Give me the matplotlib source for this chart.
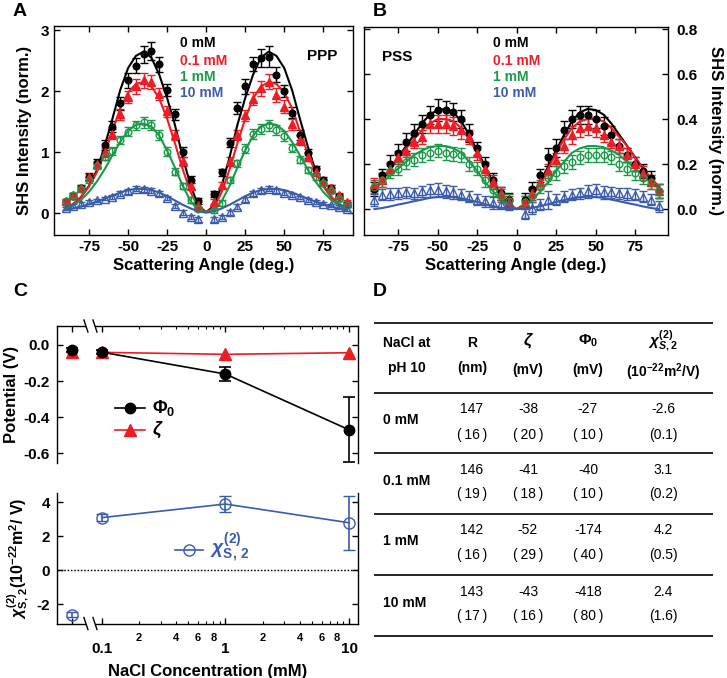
import matplotlib
matplotlib.use('Agg')
import matplotlib.pyplot as plt
from matplotlib.ticker import FixedLocator, FixedFormatter

plt.rcParams['font.family'] = ['Liberation Sans', 'DejaVu Sans']
plt.rcParams['font.weight'] = 'bold'
plt.rcParams['axes.labelweight'] = 'bold'
plt.rcParams['axes.unicode_minus'] = False
plt.rcParams['mathtext.fontset'] = 'custom'
plt.rcParams['mathtext.rm'] = 'Liberation Sans'
plt.rcParams['mathtext.it'] = 'Liberation Sans:italic'
plt.rcParams['mathtext.bf'] = 'Liberation Sans:bold'

# ---------------- data ----------------
angles = [-90, -85, -80, -75, -70, -65, -60, -55, -50, -45, -40, -35, -30, -25, -20, -15, -10, -5,
          5, 10, 15, 20, 25, 30, 35, 40, 45, 50, 55, 60, 65, 70, 75, 80, 85, 90]
fit_angles = [-90, -85, -80, -75, -70, -65, -60, -55, -50, -45, -40, -35, -30, -25, -20, -15, -10, -5, 0,
              5, 10, 15, 20, 25, 30, 35, 40, 45, 50, 55, 60, 65, 70, 75, 80, 85, 90]
conc_names = ['0 mM', '0.1 mM', '1 mM', '10 mM']

# Panel A (PPP)
a_black = [0.18, 0.28, 0.42, 0.60, 0.82, 1.12, 1.42, 1.80, 2.18, 2.42, 2.61, 2.66, 2.44, 2.02, 1.62, 1.00, 0.55, 0.20,
           0.32, 0.67, 1.16, 1.72, 2.08, 2.45, 2.54, 2.57, 2.27, 2.00, 1.65, 1.28, 0.98, 0.72, 0.55, 0.42, 0.28, 0.15]
a_black_err = [0.04, 0.05, 0.05, 0.06, 0.07, 0.08, 0.09, 0.10, 0.12, 0.12, 0.14, 0.15, 0.12, 0.10, 0.09, 0.08, 0.06, 0.05,
               0.05, 0.06, 0.08, 0.10, 0.12, 0.12, 0.15, 0.18, 0.12, 0.10, 0.09, 0.08, 0.07, 0.06, 0.05, 0.05, 0.04, 0.04]
a_red = [0.20, 0.30, 0.42, 0.60, 0.80, 1.00, 1.30, 1.62, 1.90, 2.08, 2.18, 2.15, 1.95, 1.67, 1.28, 0.85, 0.45, 0.14,
         0.19, 0.46, 0.85, 1.28, 1.61, 1.88, 2.05, 2.16, 1.94, 1.75, 1.46, 1.20, 0.93, 0.68, 0.52, 0.42, 0.30, 0.18]
a_red_err = [0.04, 0.04, 0.05, 0.05, 0.06, 0.07, 0.08, 0.09, 0.10, 0.12, 0.12, 0.12, 0.10, 0.09, 0.08, 0.07, 0.05, 0.04,
             0.04, 0.05, 0.07, 0.08, 0.09, 0.10, 0.12, 0.12, 0.12, 0.10, 0.09, 0.08, 0.07, 0.06, 0.05, 0.05, 0.04, 0.04]
a_green = [0.20, 0.30, 0.40, 0.55, 0.78, 0.93, 1.02, 1.20, 1.34, 1.44, 1.49, 1.45, 1.28, 1.01, 0.68, 0.44, 0.22, 0.07,
           0.05, 0.17, 0.55, 0.82, 1.06, 1.30, 1.38, 1.44, 1.36, 1.27, 1.07, 0.88, 0.71, 0.60, 0.50, 0.37, 0.24, 0.14]
a_green_err = [0.04, 0.04, 0.04, 0.05, 0.05, 0.06, 0.06, 0.07, 0.08, 0.08, 0.09, 0.08, 0.08, 0.07, 0.06, 0.05, 0.05, 0.04,
               0.04, 0.05, 0.05, 0.06, 0.07, 0.08, 0.08, 0.09, 0.08, 0.08, 0.07, 0.06, 0.05, 0.05, 0.04, 0.04, 0.04, 0.04]
a_blue = [0.08, 0.12, 0.15, 0.18, 0.21, 0.24, 0.27, 0.32, 0.36, 0.40, 0.39, 0.37, 0.33, 0.25, 0.12, 0.01, -0.06, -0.10,
          -0.10, -0.06, 0.02, 0.11, 0.23, 0.33, 0.38, 0.40, 0.38, 0.34, 0.30, 0.26, 0.22, 0.19, 0.16, 0.13, 0.10, 0.07]
a_blue_err = [0.03, 0.03, 0.03, 0.03, 0.03, 0.03, 0.03, 0.04, 0.04, 0.04, 0.04, 0.04, 0.04, 0.04, 0.04, 0.04, 0.04, 0.04,
              0.04, 0.04, 0.04, 0.04, 0.04, 0.04, 0.04, 0.04, 0.04, 0.04, 0.03, 0.03, 0.03, 0.03, 0.03, 0.03, 0.03, 0.03]
fitA_black = [0.08, 0.15, 0.27, 0.45, 0.70, 1.10, 1.55, 2.02, 2.38, 2.58, 2.65, 2.55, 2.27, 1.89, 1.45, 0.92, 0.46, 0.12, 0.02,
              0.12, 0.46, 0.92, 1.45, 1.89, 2.27, 2.55, 2.65, 2.58, 2.38, 2.02, 1.55, 1.10, 0.70, 0.45, 0.27, 0.15, 0.08]
fitA_red = [0.08, 0.15, 0.27, 0.44, 0.67, 0.98, 1.35, 1.72, 1.98, 2.12, 2.15, 2.08, 1.88, 1.55, 1.15, 0.72, 0.35, 0.09, 0.02,
            0.09, 0.35, 0.72, 1.15, 1.55, 1.88, 2.08, 2.15, 2.12, 1.98, 1.72, 1.35, 0.98, 0.67, 0.44, 0.27, 0.15, 0.08]
fitA_green = [0.07, 0.13, 0.22, 0.35, 0.52, 0.72, 0.95, 1.17, 1.35, 1.45, 1.47, 1.42, 1.27, 1.03, 0.75, 0.45, 0.20, 0.05, 0.02,
              0.05, 0.20, 0.45, 0.75, 1.03, 1.27, 1.42, 1.47, 1.45, 1.35, 1.17, 0.95, 0.72, 0.52, 0.35, 0.22, 0.13, 0.07]
fitA_blue = [0.05, 0.08, 0.11, 0.15, 0.19, 0.24, 0.29, 0.34, 0.38, 0.40, 0.40, 0.38, 0.34, 0.28, 0.21, 0.14, 0.08, 0.03, 0.01,
             0.03, 0.08, 0.14, 0.21, 0.28, 0.34, 0.38, 0.40, 0.40, 0.38, 0.34, 0.29, 0.24, 0.19, 0.15, 0.11, 0.08, 0.05]

# Panel B (PSS)
b_black = [0.09, 0.15, 0.20, 0.25, 0.30, 0.34, 0.38, 0.42, 0.44, 0.44, 0.43, 0.40, 0.34, 0.27, 0.20, 0.13, 0.07, 0.04,
           0.04, 0.09, 0.15, 0.23, 0.27, 0.35, 0.40, 0.42, 0.42, 0.40, 0.37, 0.33, 0.28, 0.24, 0.20, 0.17, 0.14, 0.08]
b_black_err = [0.03, 0.03, 0.04, 0.04, 0.04, 0.04, 0.04, 0.04, 0.05, 0.04, 0.04, 0.04, 0.04, 0.03, 0.03, 0.03, 0.03, 0.03,
               0.03, 0.03, 0.03, 0.04, 0.04, 0.04, 0.04, 0.04, 0.04, 0.04, 0.04, 0.04, 0.03, 0.03, 0.03, 0.03, 0.03, 0.03]
b_red = [0.11, 0.13, 0.18, 0.23, 0.26, 0.30, 0.32, 0.38, 0.38, 0.38, 0.37, 0.35, 0.32, 0.25, 0.18, 0.12, 0.07, 0.03,
         0.03, 0.07, 0.12, 0.17, 0.22, 0.28, 0.33, 0.36, 0.37, 0.36, 0.33, 0.30, 0.28, 0.24, 0.20, 0.16, 0.12, 0.08]
b_red_err = [0.03, 0.03, 0.03, 0.03, 0.03, 0.03, 0.03, 0.04, 0.04, 0.04, 0.04, 0.04, 0.03, 0.03, 0.03, 0.03, 0.03, 0.03,
             0.03, 0.03, 0.03, 0.03, 0.03, 0.03, 0.04, 0.04, 0.04, 0.04, 0.03, 0.03, 0.03, 0.03, 0.03, 0.03, 0.03, 0.03]
b_green = [0.10, 0.13, 0.17, 0.18, 0.21, 0.22, 0.24, 0.25, 0.26, 0.25, 0.245, 0.24, 0.20, 0.18, 0.13, 0.087, 0.06, 0.035,
           0.03, 0.06, 0.10, 0.14, 0.16, 0.19, 0.21, 0.23, 0.24, 0.24, 0.24, 0.23, 0.20, 0.18, 0.16, 0.14, 0.12, 0.08]
b_green_err = [0.03, 0.03, 0.03, 0.03, 0.03, 0.03, 0.03, 0.03, 0.03, 0.03, 0.03, 0.03, 0.03, 0.03, 0.03, 0.03, 0.03, 0.03,
               0.03, 0.03, 0.03, 0.03, 0.03, 0.03, 0.03, 0.03, 0.03, 0.03, 0.03, 0.03, 0.03, 0.03, 0.03, 0.03, 0.03, 0.03]
b_blue = [0.04, 0.064, 0.067, 0.07, 0.074, 0.07, 0.079, 0.083, 0.086, 0.079, 0.074, 0.064, 0.056, 0.042, 0.034, 0.027, 0.024, 0.02,
          -0.02, 0.005, 0.02, 0.04, 0.042, 0.056, 0.064, 0.071, 0.079, 0.083, 0.074, 0.074, 0.071, 0.067, 0.064, 0.056, 0.042, 0.012]
b_blue_err = [0.025, 0.025, 0.025, 0.025, 0.025, 0.025, 0.025, 0.03, 0.03, 0.03, 0.03, 0.025, 0.025, 0.025, 0.025, 0.025, 0.025, 0.025,
              0.025, 0.025, 0.025, 0.04, 0.025, 0.025, 0.025, 0.025, 0.03, 0.03, 0.03, 0.025, 0.025, 0.025, 0.025, 0.025, 0.025, 0.025]
fitB_black = [0.08, 0.13, 0.18, 0.23, 0.28, 0.33, 0.38, 0.42, 0.44, 0.445, 0.43, 0.39, 0.33, 0.26, 0.19, 0.12, 0.06, 0.02, 0.0,
              0.02, 0.06, 0.12, 0.19, 0.26, 0.33, 0.39, 0.43, 0.445, 0.44, 0.42, 0.38, 0.33, 0.28, 0.23, 0.18, 0.13, 0.09]
fitB_red = [0.09, 0.13, 0.18, 0.23, 0.27, 0.31, 0.35, 0.38, 0.40, 0.40, 0.39, 0.36, 0.31, 0.25, 0.18, 0.11, 0.06, 0.02, 0.0,
            0.02, 0.06, 0.11, 0.18, 0.25, 0.31, 0.36, 0.39, 0.40, 0.40, 0.39, 0.36, 0.32, 0.28, 0.23, 0.18, 0.14, 0.10]
fitB_green = [0.09, 0.12, 0.15, 0.18, 0.21, 0.24, 0.26, 0.275, 0.28, 0.28, 0.27, 0.25, 0.21, 0.17, 0.12, 0.08, 0.04, 0.01, 0.0,
              0.01, 0.04, 0.08, 0.12, 0.17, 0.21, 0.25, 0.27, 0.28, 0.28, 0.275, 0.26, 0.24, 0.21, 0.18, 0.15, 0.12, 0.09]
fitB_blue = [0.0, 0.005, 0.012, 0.02, 0.027, 0.035, 0.042, 0.05, 0.054, 0.055, 0.053, 0.048, 0.04, 0.032, 0.022, 0.013, 0.006, 0.002, 0.0,
             0.002, 0.006, 0.013, 0.022, 0.032, 0.04, 0.048, 0.053, 0.055, 0.054, 0.05, 0.042, 0.035, 0.027, 0.02, 0.012, 0.005, 0.0]

# Panel C
conc = [0, 0.1, 1, 10]
zero_pos = 0.058          # where 0 mM sits on the broken log axis
phi0 = [-0.027, -0.040, -0.161, -0.470]
phi0_err = [0.01, 0.01, 0.04, 0.18]
zeta_v = [-0.038, -0.041, -0.052, -0.043]
chi2 = [-2.6, 3.1, 3.9, 2.8]
chi2_err = [0.15, 0.2, 0.45, 1.6]

# Panel D table
tbl_R = ['147', '146', '142', '143']
tbl_R_err = ['16', '19', '16', '17']
tbl_zeta = ['-38', '-41', '-52', '-43']
tbl_zeta_err = ['20', '18', '29', '16']
tbl_phi = ['-27', '-40', '-174', '-418']
tbl_phi_err = ['10', '10', '40', '80']
tbl_chi = ['-2.6', '3.1', '4.2', '2.4']
tbl_chi_err = ['0.1', '0.2', '0.5', '1.6']

# ---------------- figure ----------------
BLACK, RED, GREEN, BLUE = '#000000', '#ee1c25', '#1a9a48', '#3b5bad'
W, H = 727, 678
fig = plt.figure(figsize=(W / 100, H / 100), dpi=100)


def rect(l, t, r, b):
    return [l / W, 1 - b / H, (r - l) / W, (b - t) / H]


axA = fig.add_axes(rect(54, 26, 353, 235))
axB = fig.add_axes(rect(364, 27, 668, 235))
axC1 = fig.add_axes(rect(56.7, 326, 358, 463))
axC2 = fig.add_axes(rect(56.7, 493.3, 358, 623.5))
ov = fig.add_axes([0, 0, 1, 1], zorder=10)
ov.set_xlim(0, W)
ov.set_ylim(H, 0)
ov.axis('off')

styles = [(BLACK, 'o', True), (RED, '^', True), (GREEN, 'o', False), (BLUE, '^', False)]


def draw_sh(ax, data, errs, fits):
    for (c, m, filled), y, e in zip(styles, data, errs):
        ax.errorbar(angles, y, yerr=e, fmt=m, color=c, mfc=c if filled else 'none', mec=c,
                    ms=4.8 if m == 'o' else 5.2, mew=1.0, capsize=2.6, elinewidth=1.0, capthick=1.0)
    for (c, m, filled), f in zip(styles, fits):
        ax.plot(fit_angles, f, color=c, lw=1.5)
    ax.set_xticks([-75, -50, -25, 0, 25, 50, 75])
    ax.tick_params(direction='in', top=True, right=True, length=4, width=1, labelsize=11)
    for s in ax.spines.values():
        s.set_linewidth(1.0)
    ax.set_xlabel('Scattering Angle (deg.)', fontsize=12, labelpad=3)


draw_sh(axA, [a_black, a_red, a_green, a_blue], [a_black_err, a_red_err, a_green_err, a_blue_err],
        [fitA_black, fitA_red, fitA_green, fitA_blue])
axA.set_xlim(-97.4, 94)
axA.set_ylim(-0.356, 3.07)
axA.set_yticks([0, 1, 2, 3])
axA.set_ylabel('SHS Intensity (norm.)', fontsize=12, labelpad=6)

draw_sh(axB, [b_black, b_red, b_green, b_blue], [b_black_err, b_red_err, b_green_err, b_blue_err],
        [fitB_black, fitB_red, fitB_green, fitB_blue])
axB.set_xlim(-96.6, 95.8)
axB.set_ylim(-0.115, 0.809)
axB.set_yticks([0.0, 0.2, 0.4, 0.6, 0.8])
axB.tick_params(axis='y', labelleft=False, labelright=True, pad=6)
axB.yaxis.set_label_position('right')
axB.set_ylabel('SHS Intensity (norm.)', fontsize=12, rotation=270, labelpad=18)

# legends in A and B
for x0 in (180, 493):
    for name, c, y in zip(conc_names, [BLACK, RED, GREEN, BLUE], [43, 61, 77, 93]):
        ov.text(x0, y, name, color=c, fontsize=10, va='center', ha='left')
ov.text(307, 56, 'PPP', fontsize=11, va='center', ha='left')
ov.text(382, 57, 'PSS', fontsize=11, va='center', ha='left')

# ---------------- panel C ----------------
xpos = [zero_pos if c == 0 else c for c in conc]
minor_pos = [0.2, 0.3, 0.4, 0.5, 0.6, 0.7, 0.8, 0.9, 2, 3, 4, 5, 6, 7, 8, 9]
minor_lab = ['2', '', '4', '', '6', '', '8', '', '2', '', '4', '', '6', '', '8', '']

for ax in (axC1, axC2):
    ax.set_xscale('log')
    ax.set_xlim(0.0433, 11.82)
    ax.xaxis.set_major_locator(FixedLocator([zero_pos, 0.1, 1, 10]))
    ax.xaxis.set_minor_locator(FixedLocator(minor_pos))
    for s in ax.spines.values():
        s.set_linewidth(1.0)
    ax.tick_params(axis='both', which='major', direction='in', length=4, width=1, labelsize=11)
    ax.tick_params(axis='both', which='minor', direction='in', length=2.5, width=0.8)
    ax.tick_params(axis='y', right=True, pad=5)

# top: potentials
axC1.spines['bottom'].set_visible(False)
axC1.xaxis.set_ticks_position('top')
axC1.tick_params(axis='x', which='both', labeltop=False, labelbottom=False)
axC1.set_ylim(-0.654, 0.105)
axC1.set_yticks([-0.6, -0.4, -0.2, 0.0])
axC1.set_yticklabels(['-0.6', '-0.4', '-0.2', '0.0'])
axC1.errorbar(xpos[1:], phi0[1:], yerr=phi0_err[1:], fmt='-o', color=BLACK, ms=7.5, lw=1.2,
              capsize=4, elinewidth=1.2, capthick=1.2)
axC1.errorbar(xpos[:1], phi0[:1], yerr=phi0_err[:1], fmt='o', color=BLACK, ms=7.5,
              capsize=4, elinewidth=1.2, capthick=1.2)
axC1.plot(xpos[1:], zeta_v[1:], '-^', color=RED, ms=8, lw=1.2)
axC1.plot(xpos[:1], zeta_v[:1], '^', color=RED, ms=8)
axC1.set_ylabel('Potential (V)', fontsize=12)
axC1.yaxis.set_label_coords(-0.125, 0.5)

# bottom: chi
axC2.spines['top'].set_visible(False)
axC2.xaxis.set_ticks_position('bottom')
axC2.xaxis.set_major_formatter(FixedFormatter(['', '0.1', '1', '10']))
axC2.xaxis.set_minor_formatter(FixedFormatter(minor_lab))
axC2.tick_params(axis='x', which='major', pad=13)
axC2.tick_params(axis='x', which='minor', pad=7, labelsize=8)
axC2.set_ylim(-3.12, 4.53)
axC2.set_yticks([-2, 0, 2, 4])
axC2.axhline(0, color='k', ls=(0, (1.2, 1.2)), lw=1.0)
axC2.errorbar(xpos[1:], chi2[1:], yerr=chi2_err[1:], fmt='-o', color=BLUE, mfc='none', ms=8, mew=1.0,
              lw=1.2, capsize=4, elinewidth=1.2, capthick=1.2)
axC2.errorbar(xpos[:1], chi2[:1], yerr=chi2_err[:1], fmt='o', color=BLUE, mfc='none', ms=8, mew=1.0,
              capsize=4, elinewidth=1.2, capthick=1.2)
axC2.set_xlabel('NaCl Concentration (mM)', fontsize=12, labelpad=6)
axC2.set_ylabel(r'$\chi_{\mathbf{S,\,2}}^{\mathbf{(2)}}$(10$^{\mathbf{-22}}$m$^{\mathbf{2}}$/ V)', fontsize=11.5)
axC2.yaxis.set_label_coords(-0.085, 0.5)

# axis breaks
gap = (0.0746, 0.0883)
for ax, yax in ((axC1, 1.0), (axC2, 0.0)):
    tr = ax.get_xaxis_transform()
    pts = [tr.transform((g, yax)) for g in gap]
    xs = [p[0] for p in pts]
    yy = H - pts[0][1]
    ov.plot(xs, [yy, yy], color='white', lw=3, solid_capstyle='butt', clip_on=False)
    for xx in xs:
        ov.plot([xx - 2, xx + 2], [yy - 6, yy + 6], color='k', lw=1.0, clip_on=False)

# C legends
ov.plot([115, 145], [408, 408], color=BLACK, lw=1.2)
ov.plot([130], [408], 'o', color=BLACK, ms=7.5)
ov.text(152, 408, r'$\Phi_\mathbf{0}$', fontsize=13, va='center', fontweight='normal')
ov.plot([115, 145], [430, 430], color=RED, lw=1.2)
ov.plot([130], [430], '^', color=RED, ms=8)
ov.text(152, 430, r'$\zeta$', fontsize=13, va='center', fontweight='normal')
ov.plot([175, 203], [550, 550], color=BLUE, lw=1.2)
ov.plot([189], [550], 'o', color=BLUE, mfc='none', ms=8, mew=1.0)
ov.text(210, 549, r'$\chi_{\mathbf{S,\,2}}^{\mathbf{(2)}}$', fontsize=14, va='center', color=BLUE,
        fontweight='normal')

# panel letters
for lab, x, y in (('A', 20, 12), ('B', 380, 12), ('C', 20, 291), ('D', 380, 291)):
    ov.text(x, y, lab, fontsize=14, ha='center', va='center')

# ---------------- panel D table ----------------
ov.hlines([323, 393, 453, 514, 575, 636], 374, 713, color='k', lw=1.2)
ov.text(407, 343, 'NaCl at', fontsize=10, ha='center', va='center')
ov.text(407, 368, 'pH 10', fontsize=10, ha='center', va='center')
ov.text(472, 343, 'R', fontsize=10, ha='center', va='center')
ov.text(472, 368, '(nm)', fontsize=10, ha='center', va='center')
ov.text(528, 341, r'$\zeta$', fontsize=12, ha='center', va='center', fontweight='normal')
ov.text(528, 370, '(mV)', fontsize=10, ha='center', va='center')
ov.text(588, 341, r'$\Phi_{0}$', fontsize=11, ha='center', va='center', fontweight='normal')
ov.text(588, 370, '(mV)', fontsize=10, ha='center', va='center')
ov.text(663, 341, r'$\chi^{(2)}_{S,2}$', fontsize=11, ha='center', va='center', fontweight='normal')
ov.text(663, 372, r'(10$^{\mathbf{-22}}$m$^{\mathbf{2}}$/V)', fontsize=10, ha='center', va='center')

row_label_y = [420, 481, 541, 603]
val_y = [409, 470, 530, 592]
err_y = [435, 494, 555, 616]
cols = [(472, tbl_R, tbl_R_err, True), (528, tbl_zeta, tbl_zeta_err, True), (588, tbl_phi, tbl_phi_err, True),
        (663, tbl_chi, tbl_chi_err, False)]
for i, name in enumerate(conc_names):
    ov.text(383, row_label_y[i], name, fontsize=10, ha='left', va='center')
    for cx, vals, errs, wide in cols:
        ov.text(cx, val_y[i], vals[i], fontsize=10, ha='center', va='center', fontweight='normal')
        etxt = ('(\u2009%s\u2009)' if wide else '(%s)') % errs[i]
        ov.text(cx, err_y[i], etxt, fontsize=10, ha='center', va='center', fontweight='normal')

fig.savefig('out.png', dpi=100)
